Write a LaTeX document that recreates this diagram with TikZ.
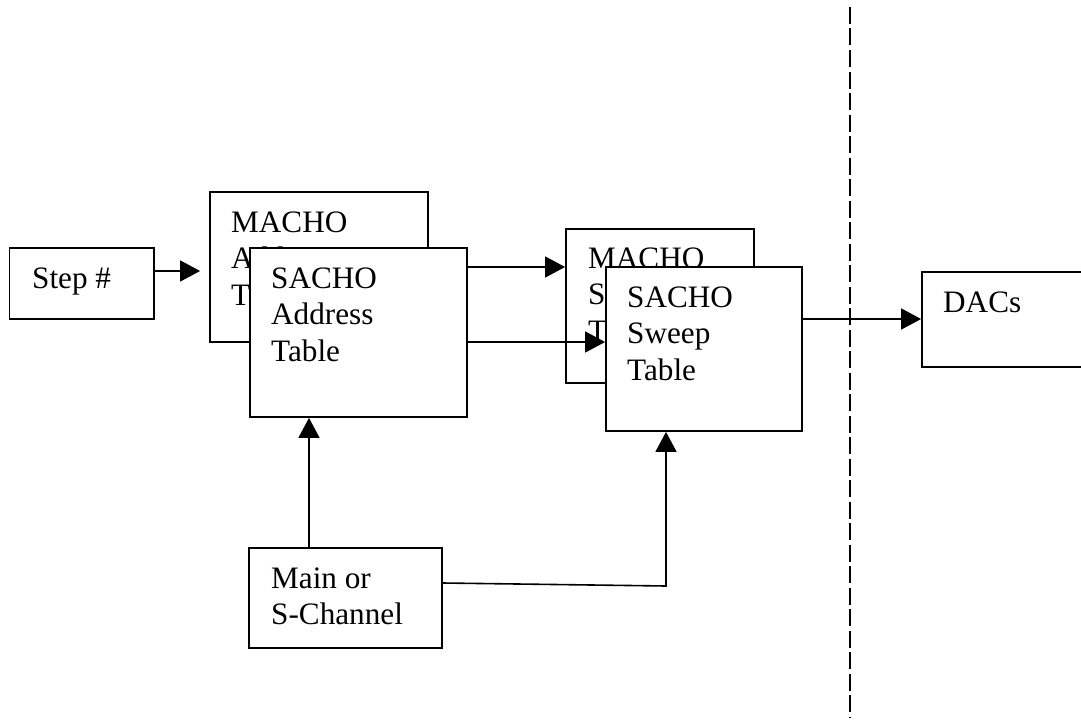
\documentclass[tikz,border=0pt]{standalone}
\usepackage{fontspec}
\setmainfont{Liberation Serif}
\usetikzlibrary{arrows.meta}
\begin{document}
\begin{tikzpicture}[x=1pt,y=-1pt,
  box/.style={draw, line width=1.8pt, fill=white, rectangle, inner sep=0pt},
  txt/.style={anchor=base west, inner sep=0pt, font=\fontsize{31.2}{36.5}\selectfont},
  arr/.style={line width=1.6pt, -{Triangle[length=20pt,width=21pt]}},
  divider/.style={line width=2pt, dash pattern=on 17pt off 4.5pt}]
\useasboundingbox (0,0) rectangle (1081,725);
% Step
\node[box, minimum width=144.5pt, minimum height=71pt] (step) at (81.75,283.5) {};
\node[txt] (stept) at (32,288) {Step \#};
% MACHO address
\node[box, minimum width=218pt, minimum height=150pt] (maddr) at (319,267) {};
\node[txt] (maddrt) at (231,232) {\vtop{\hbox{MACHO}\hbox{Address}\hbox{Table}}};
% SACHO address
\node[box, minimum width=217pt, minimum height=169pt] (saddr) at (358.5,332.5) {};
\node[txt] (saddrt) at (271,288.3) {\vtop{\hbox{SACHO}\hbox{Address}\hbox{Table}}};
% step -> MACHO address
\draw[arr, shorten >=9pt] ([yshift=12.5pt]step.east) coordinate (s1) -- (s1 -| maddr.west);
% MACHO sweep
\node[box, minimum width=188pt, minimum height=154pt] (msweep) at (660,306) {};
\node[txt] (msweept) at (588,268) {\vtop{\hbox{MACHO}\hbox{Sweep}\hbox{Table}}};
% arrows from SACHO address
\draw[arr] ([yshift=65.5pt]saddr.east) coordinate (a1) -- (a1 -| msweep.west);
\node[box, minimum width=196pt, minimum height=164pt] (ssweep) at (704,349) {};
\draw[arr] ([yshift=-9.5pt]saddr.east) coordinate (a2) -- (a2 -| ssweep.west);
\node[txt] (ssweept) at (627,307) {\vtop{\hbox{SACHO}\hbox{Sweep}\hbox{Table}}};
% DACs
\node[box, minimum width=200pt, minimum height=95pt] (dacs) at (1022,319.5) {};
\node[txt] (dacst) at (943,312) {DACs};
% divider
\coordinate (dtop) at (850,7);
\coordinate (dbot) at (850,718);
\draw[divider] (dtop) -- (dbot);
% SACHO sweep -> DACs
\draw[arr] ([yshift=30pt]ssweep.east) coordinate (a3) -- (a3 -| dacs.west);
% Main or S-Channel
\node[box, minimum width=193pt, minimum height=100pt] (main) at (345.5,598) {};
\node[txt] (maint) at (271,588) {\vtop{\hbox{Main or}\hbox{S-Channel}}};
\draw[arr] ([xshift=-36.5pt]main.north) coordinate (m1) -- (m1 |- saddr.south);
\coordinate (corner) at (666,586);
\draw[arr] ([yshift=15pt]main.east) -- (corner) -- (corner |- ssweep.south);
\end{tikzpicture}
\end{document}
